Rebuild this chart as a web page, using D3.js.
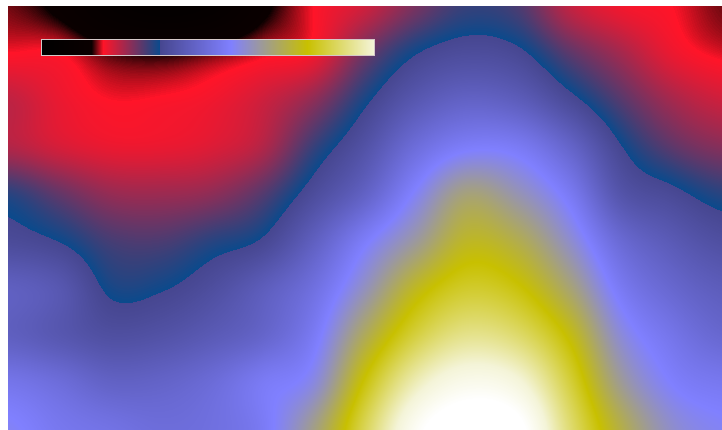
<!DOCTYPE html>
<html>
<head>
<meta charset="utf-8">
<style>
  html, body { margin: 0; padding: 0; background: #fff; overflow: hidden; }
  #chart { position: absolute; left: 8px; top: 6px; width: 714px; height: 424px; }
  #chart canvas, #chart svg { position: absolute; left: 0; top: 0; }
</style>
<script src="https://cdn.jsdelivr.net/npm/d3@7"></script>
</head>
<body>
<div id="chart"></div>
<script>
// Sampled field: 15 columns x 10 rows, one named array per row (top to bottom).
const row0 = [16.5, 14, 8, 5, 7, 14, 18.5, 22, 28, 32.5, 31, 23, 19.5, 18.5, 16.5];
const row1 = [18.5, 18.5, 15.8, 15, 16.3, 18, 19.5, 28.5, 35.3, 38, 36.5, 30, 25, 20, 18];
const row2 = [23, 20, 18.5, 18.7, 19.5, 22, 26.5, 34.6, 42, 46, 44, 37.2, 30.5, 25, 22];
const row3 = [24, 21.5, 20, 20, 21, 24, 32.5, 40, 50, 56, 55, 47, 36, 30, 27];
const row4 = [33.5, 29.5, 26, 25.5, 26.5, 30.5, 38, 46, 58, 69, 64, 55, 41, 37, 33.5];
const row5 = [37.5, 35.5, 31.5, 31, 33.5, 36.2, 45, 56, 66, 76.5, 73, 62, 49, 43, 39];
const row6 = [45, 42, 34.8, 35.2, 38.5, 44, 51, 63, 77, 84, 81, 70, 55, 48, 44];
const row7 = [45, 42, 39, 40, 43, 47, 55, 72, 86, 93, 90, 79, 61, 53, 48];
const row8 = [53, 50, 46, 46.5, 49.5, 55, 60, 81, 97, 104, 101, 86, 67, 57, 54];
const row9 = [58, 54, 52, 50, 51, 55, 68, 88, 106, 113, 110, 91, 74, 62, 58];
const field = [row0, row1, row2, row3, row4, row5, row6, row7, row8, row9];

// Colour ramp: value stops and their colours (a hard step at 35.5).
const rampStops  = [0, 15, 18.5, 35.5, 35.51, 57, 80, 100, 108];
const rampColors = ["#000000", "#0a0000", "#ff1428", "#0b4a8c", "#46468f",
                    "#8080ff", "#c8c000", "#f4f4d8", "#ffffff"];
// Legend covers this value range.
const legendDomain = [0, 100];

const width = 714, height = 424;
const nx = field[0].length, ny = field.length;

const x = d3.scaleLinear().domain([0, nx - 1]).range([0, width]);
const y = d3.scaleLinear().domain([0, ny - 1]).range([0, height]);
const color = d3.scaleLinear().domain(rampStops).range(rampColors)
  .interpolate(d3.interpolateRgb).clamp(true);

// Catmull-Rom weights for smooth sampling between grid values.
function cr(p0, p1, p2, p3, t) {
  const t2 = t * t, t3 = t2 * t;
  return 0.5 * ((2 * p1) + (-p0 + p2) * t + (2 * p0 - 5 * p1 + 4 * p2 - p3) * t2 +
                (-p0 + 3 * p1 - 3 * p2 + p3) * t3);
}
function at(i, j) {
  i = Math.max(0, Math.min(nx - 1, i));
  j = Math.max(0, Math.min(ny - 1, j));
  return field[j][i];
}
function sample(gx, gy) {
  const i = Math.floor(gx), j = Math.floor(gy);
  const tx = gx - i, ty = gy - j;
  const r = [];
  for (let k = -1; k <= 2; k++) {
    r.push(cr(at(i - 1, j + k), at(i, j + k), at(i + 1, j + k), at(i + 2, j + k), tx));
  }
  return cr(r[0], r[1], r[2], r[3], ty);
}

const container = d3.select("#chart");
const canvas = container.append("canvas").attr("width", width).attr("height", height);
const ctx = canvas.node().getContext("2d");
const img = ctx.createImageData(width, height);

// Colour lookup in tenths of a unit
const lut = [];
for (let v = 0; v <= 1200; v++) lut.push(d3.rgb(color(v / 10)));

for (let py = 0; py < height; py++) {
  const gy = Math.min(ny - 1 - 1e-9, y.invert(py + 0.5));
  for (let px = 0; px < width; px++) {
    const gx = Math.min(nx - 1 - 1e-9, x.invert(px + 0.5));
    const v = sample(gx, gy);
    const c = lut[Math.max(0, Math.min(1200, Math.round(v * 10)))];
    const o = (py * width + px) * 4;
    img.data[o] = c.r; img.data[o + 1] = c.g; img.data[o + 2] = c.b; img.data[o + 3] = 255;
  }
}
ctx.putImageData(img, 0, 0);

// Legend bar: one 1px step per pixel of its width
const legendWidth = 332;
const svg = container.append("svg").attr("width", width).attr("height", height);
const lx = d3.scaleLinear().domain(legendDomain).range([34, 34 + legendWidth]);
const legend = svg.append("g");
legend.selectAll("rect.step")
  .data(d3.range(legendWidth))
  .join("rect")
  .attr("class", "step")
  .attr("x", i => 34 + i)
  .attr("y", 34)
  .attr("width", 1)
  .attr("height", 15)
  .attr("fill", i => color(lx.invert(34 + i + 0.5)))
  .attr("shape-rendering", "crispEdges");
legend.append("rect")
  .attr("x", 33.5).attr("y", 33.5)
  .attr("width", legendWidth + 1).attr("height", 16)
  .attr("fill", "none")
  .attr("stroke", "#d4c8c8")
  .attr("stroke-width", 1);
</script>
</body>
</html>
